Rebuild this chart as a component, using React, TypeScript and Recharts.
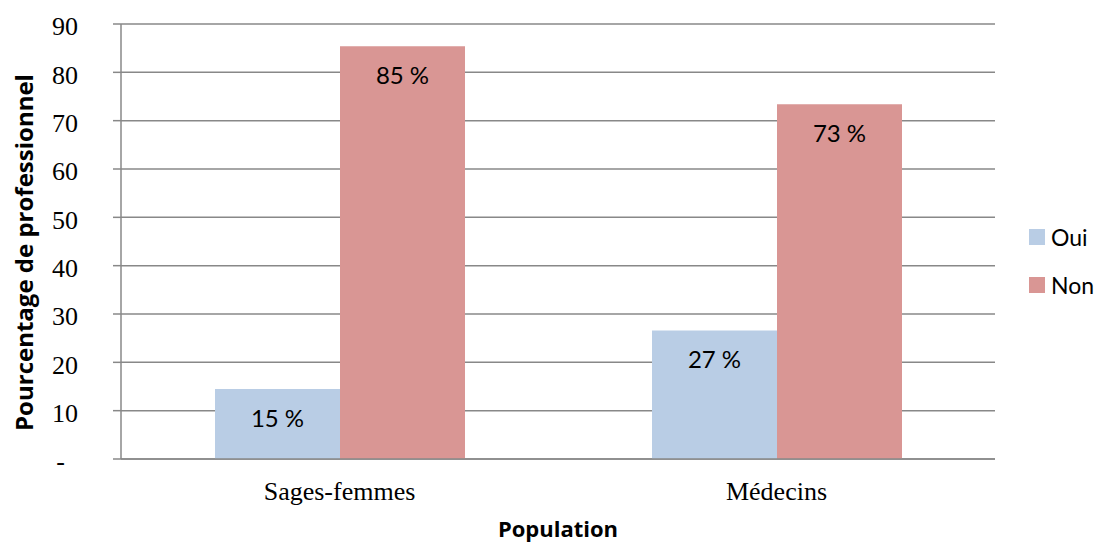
import { BarChart, Bar, XAxis, YAxis, CartesianGrid, Legend, LabelList } from 'recharts';

const categories = ['Sages-femmes', 'Médecins'];
const ouiValues = [14.5, 26.6];
const nonValues = [85.4, 73.4];
const yTicks = [0, 10, 20, 30, 40, 50, 60, 70, 80, 90];
const seriesOrder = ['Oui', 'Non'];

const data = categories.map((name, i) => ({ name, oui: ouiValues[i], non: nonValues[i] }));

const gridColor = '#888888';
const sans = 'Lato, "Open Sans", sans-serif';
const boldSans = '"Open Sans", sans-serif';
const serif = '"Liberation Serif", "Times New Roman", serif';

const YTitle = (props: any) => {
  const vb = props.viewBox || { x: 0, y: 0, height: 0 };
  const cx = vb.x + 23;
  const cy = vb.y + vb.height / 2 + 11;
  return (
    <text
      x={cx}
      y={cy}
      transform={`rotate(-90, ${cx}, ${cy})`}
      textAnchor="middle"
      dominantBaseline="central"
      fontFamily={boldSans}
      fontWeight="bold"
      fontSize={24}
      fill="#000"
    >
      Pourcentage de professionnel
    </text>
  );
};

const LegendBox = (props: any) => {
  const items = [...(props.payload || [])].sort(
    (a: any, b: any) => seriesOrder.indexOf(a.value) - seriesOrder.indexOf(b.value)
  );
  return (
    <div style={{ fontFamily: sans, fontSize: 23 }}>
      {items.map((it: any) => (
        <div key={it.value} style={{ display: 'flex', alignItems: 'center', height: 16, marginBottom: 32 }}>
          <span style={{ width: 16, height: 16, background: it.color, display: 'inline-block', marginRight: 6 }} />
          <span style={{ color: '#000', lineHeight: '16px' }}>{it.value}</span>
        </div>
      ))}
    </div>
  );
};

const App = () => {
  return (
    <div style={{ position: 'absolute', left: 0, top: 0, background: '#fff' }}>
      <BarChart
        width={1097}
        height={543}
        data={data}
        margin={{ top: 24, right: 102, bottom: 0, left: 0 }}
        barGap={0}
        barSize={125}
      >
        <CartesianGrid vertical={false} stroke={gridColor} strokeWidth={1.5} />
        <XAxis
          dataKey="name"
          height={84}
          tickLine={false}
          tickSize={0}
          tickMargin={23}
          axisLine={{ stroke: gridColor, strokeWidth: 1.5 }}
          tick={{ fill: '#000', fontSize: 26, fontFamily: serif }}
          label={{ value: 'Population', position: 'insideBottom', offset: 6, fill: '#000', fontSize: 22, fontWeight: 'bold', fontFamily: boldSans }}
        />
        <YAxis
          width={121}
          domain={[0, 90]}
          ticks={yTicks}
          interval={0}
          tickSize={8}
          tickMargin={35}
          tickLine={{ stroke: gridColor, strokeWidth: 1.5 }}
          axisLine={{ stroke: gridColor, strokeWidth: 1.5 }}
          tick={{ fill: '#000', fontSize: 26, fontFamily: serif, dy: 2 }}
          tickFormatter={(v: number) => (v === 0 ? '-\u00A0\u00A0' : String(v))}
          label={<YTitle />}
        />
        <Legend
          layout="horizontal"
          verticalAlign="middle"
          align="center"
          content={<LegendBox />}
          wrapperStyle={{ position: 'absolute', top: 229, left: 1029, width: 68 }}
        />
        <Bar dataKey="oui" name="Oui" fill="#B9CDE5" isAnimationActive={false}>
          <LabelList
            dataKey="oui"
            position="insideTop"
            offset={21}
            fill="#000"
            fontSize={24}
            fontFamily={sans}
            formatter={(v: any) => `${Math.round(Number(v))} %`}
          />
        </Bar>
        <Bar dataKey="non" name="Non" fill="#D99694" isAnimationActive={false}>
          <LabelList
            dataKey="non"
            position="insideTop"
            offset={21}
            fill="#000"
            fontSize={24}
            fontFamily={sans}
            formatter={(v: any) => `${Math.round(Number(v))} %`}
          />
        </Bar>
      </BarChart>
    </div>
  );
};

export default App;
